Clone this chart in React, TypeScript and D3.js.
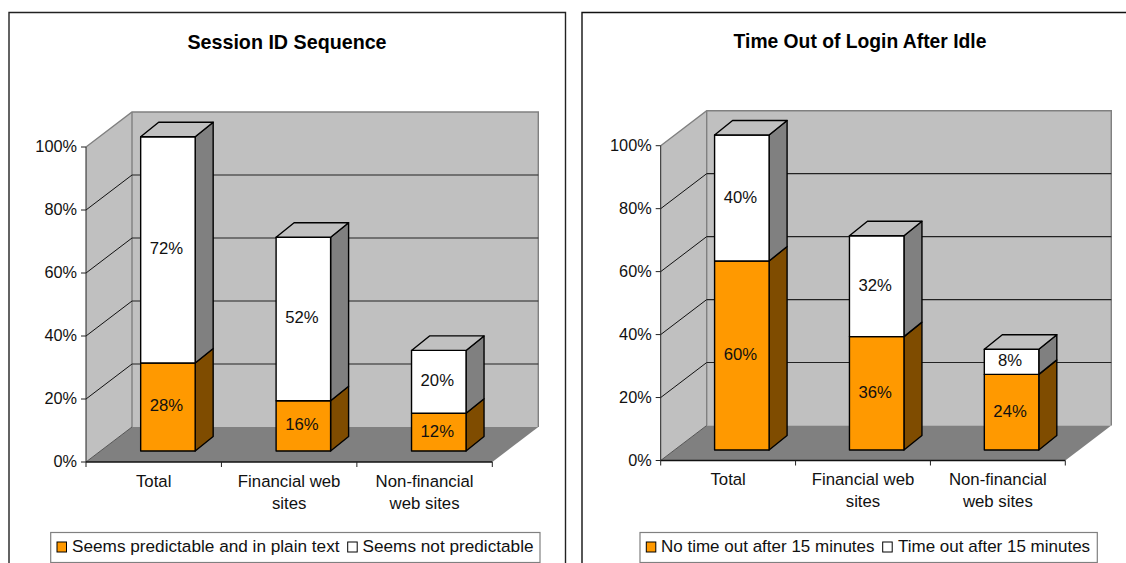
import React from "react";
import * as d3 from "d3";

const categoryLines = [["Total"], ["Financial web", "sites"], ["Non-financial", "web sites"]];
const categoryKeys = ["Total", "Financial web sites", "Non-financial web sites"];
const yTicks = [0, 20, 40, 60, 80, 100];

const sessionPredictable = [28, 16, 12];
const sessionNotPredictable = [72, 52, 20];
const timeoutNone = [60, 36, 24];
const timeoutAfter = [40, 32, 8];

const ORANGE = "#ff9900";
const ORANGE_SIDE = "#7f4c00";
const WHITE_SIDE = "#808080";
const WALL = "#c0c0c0";
const FLOOR = "#808080";
const FONT = "'Liberation Sans', Arial, sans-serif";

type PanelProps = {
  title: string;
  titleX: number;
  titleY: number;
  titleSize: number;
  axisX: number;
  floorRight: number;
  y0: number;
  y100: number;
  barBottom: number;
  barTop: number;
  barShift: number;
  lower: number[];
  upper: number[];
  catBaseline: number;
  legendSize: number;
  legend: { x0: number; x1: number; s1: number; t1: number; s2: number; t2: number; a: string; b: string };
};

const WALL_DX = 46;
const WALL_DY = 35;
const BAR_DX = 18;
const BAR_DY = 14.5;
const BAR_W = 54.5;

const pts = (p: number[][]) => p.map((q) => q.join(",")).join(" ");

function Panel(p: PanelProps) {
  const x = d3.scaleBand<string>().domain(categoryKeys).range([p.axisX, p.floorRight]);
  const yAxis = d3.scaleLinear().domain([0, 100]).range([p.y0, p.y100]);
  const yBar = d3.scaleLinear().domain([0, 100]).range([p.barBottom, p.barTop]);
  const wallL = p.axisX + WALL_DX;
  const wallR = p.floorRight + WALL_DX;
  const wallTop = p.y100 - WALL_DY;
  const wallBottom = p.y0 - WALL_DY;
  const edges = [p.axisX, ...categoryKeys.map((c) => (x(c) as number) + x.bandwidth())];

  return (
    <g fontFamily={FONT} fontSize={16.3} fill="#111">
      <text x={p.titleX} y={p.titleY} textAnchor="middle" fontWeight="bold" fontSize={p.titleSize} fill="#000">
        {p.title}
      </text>

      {/* walls and floor of the 3D plot box */}
      <polygon
        points={pts([[p.axisX, p.y0], [wallL, wallBottom], [wallL, wallTop], [p.axisX, p.y100]])}
        fill={WALL}
      />
      <rect x={wallL} y={wallTop} width={wallR - wallL} height={wallBottom - wallTop} fill={WALL} />
      <polygon
        points={pts([[p.axisX, p.y0], [p.floorRight, p.y0], [wallR, wallBottom], [wallL, wallBottom]])}
        fill={FLOOR}
      />
      <polyline
        points={pts([[p.axisX, p.y100], [wallL, wallTop], [wallR, wallTop], [wallR, wallBottom]])}
        fill="none"
        stroke={FLOOR}
        strokeWidth={1.4}
      />
      <line x1={wallL} x2={wallL} y1={wallTop} y2={wallBottom} stroke={FLOOR} strokeWidth={1.4} />

      {/* gridlines across the side and back walls */}
      {yTicks
        .filter((t) => t > 0 && t < 100)
        .map((t) => (
          <g key={t}>
            <line x1={p.axisX} y1={yAxis(t)} x2={wallL} y2={yAxis(t) - WALL_DY} stroke="#111" strokeWidth={1} />
            <line x1={wallL} y1={yAxis(t) - WALL_DY} x2={wallR} y2={yAxis(t) - WALL_DY} stroke="#222" strokeWidth={1.1} />
          </g>
        ))}

      {/* value axis */}
      <line x1={p.axisX} x2={p.axisX} y1={p.y100} y2={p.y0} stroke="#222" strokeWidth={1} />
      <line x1={p.axisX} y1={p.y0} x2={wallL} y2={wallBottom} stroke="#555" strokeWidth={1} />
      {yTicks.map((t) => (
        <g key={t}>
          <line x1={p.axisX - 5} x2={p.axisX} y1={yAxis(t)} y2={yAxis(t)} stroke="#222" strokeWidth={1} />
          <text x={p.axisX - 9} y={yAxis(t) + 5} textAnchor="end">
            {t}%
          </text>
        </g>
      ))}

      {/* category axis */}
      <line x1={p.axisX} x2={p.floorRight} y1={p.y0} y2={p.y0} stroke="#111" strokeWidth={1.4} />
      {edges.map((e) => (
        <line key={e} x1={e} x2={e} y1={p.y0} y2={p.y0 + 5} stroke="#222" strokeWidth={1} />
      ))}
      {categoryKeys.map((c, i) => (
        <text key={c} textAnchor="middle" fontSize={16.8}>
          {categoryLines[i].map((line, j) => (
            <tspan key={line} x={(x(c) as number) + x.bandwidth() / 2} y={p.catBaseline + j * 22}>
              {line}
            </tspan>
          ))}
        </text>
      ))}

      {/* stacked 3D columns */}
      {categoryKeys.map((c, i) => {
        const left = (x(c) as number) + x.bandwidth() / 2 + p.barShift - BAR_W / 2;
        const right = left + BAR_W;
        const low = p.lower[i];
        const total = low + p.upper[i];
        const segments = [
          { from: 0, to: low, face: ORANGE, side: ORANGE_SIDE },
          { from: low, to: total, face: "#ffffff", side: WHITE_SIDE },
        ];
        return (
          <g key={c} stroke="#000" strokeWidth={1.4} strokeLinejoin="round">
            {segments.map((s) => {
              const yA = yBar(s.from);
              const yB = yBar(s.to);
              return (
                <g key={s.from}>
                  <polygon
                    points={pts([[right, yA], [right + BAR_DX, yA - BAR_DY], [right + BAR_DX, yB - BAR_DY], [right, yB]])}
                    fill={s.side}
                  />
                  <rect x={left} y={yB} width={BAR_W} height={yA - yB} fill={s.face} />
                  <text
                    x={(left + right) / 2 - 1.5}
                    y={(yA + yB) / 2 + 4.5}
                    textAnchor="middle"
                    stroke="none"
                    fill="#111"
                    fontSize={16.7}
                  >
                    {s.to - s.from}%
                  </text>
                </g>
              );
            })}
            <polygon
              points={pts([
                [left, yBar(total)],
                [right, yBar(total)],
                [right + BAR_DX, yBar(total) - BAR_DY],
                [left + BAR_DX, yBar(total) - BAR_DY],
              ])}
              fill={WALL}
            />
          </g>
        );
      })}

      {/* legend */}
      <rect x={p.legend.x0} y={532.5} width={p.legend.x1 - p.legend.x0} height={30} fill="#fff" stroke="#808080" strokeWidth={1.2} />
      <rect x={p.legend.s1} y={542} width={9.5} height={10} fill={ORANGE} stroke="#000" strokeWidth={1} />
      <text x={p.legend.t1} y={552} fontSize={p.legendSize}>{p.legend.a}</text>
      <rect x={p.legend.s2} y={542} width={9.5} height={10} fill="#fff" stroke="#000" strokeWidth={1} />
      <text x={p.legend.t2} y={552} fontSize={p.legendSize}>{p.legend.b}</text>
    </g>
  );
}

export default function App() {
  return (
    <svg
      width={1126}
      height={563}
      viewBox="0 0 1126 563"
      style={{ position: "absolute", left: 0, top: 0, display: "block", background: "#fff" }}
    >
      {/* chart frames, cut off by the page edge */}
      <path d="M9,570 V12.5 H565.5 V570" fill="none" stroke="#222" strokeWidth={1.4} />
      <path d="M582,570 V12.5 H1130" fill="none" stroke="#111" strokeWidth={1.4} />

      <Panel
        title="Session ID Sequence"
        titleX={287}
        titleY={48.5}
        titleSize={19.7}
        axisX={86}
        floorRight={492.3}
        y0={462}
        y100={147}
        barBottom={451}
        barTop={136.7}
        barShift={14.2}
        lower={sessionPredictable}
        upper={sessionNotPredictable}
        catBaseline={487}
        legendSize={17.2}
        legend={{
          x0: 50.7,
          x1: 540,
          s1: 57,
          t1: 72,
          s2: 347.7,
          t2: 362.5,
          a: "Seems predictable and in plain text",
          b: "Seems not predictable",
        }}
      />
      <Panel
        title="Time Out of Login After Idle"
        titleX={860}
        titleY={47.5}
        titleSize={19.3}
        axisX={660.7}
        floorRight={1065.3}
        y0={460.5}
        y100={145.7}
        barBottom={450}
        barTop={135}
        barShift={13.7}
        lower={timeoutNone}
        upper={timeoutAfter}
        catBaseline={485}
        legendSize={17}
        legend={{
          x0: 640,
          x1: 1097.3,
          s1: 646.3,
          t1: 661,
          s2: 882.7,
          t2: 898,
          a: "No time out after 15 minutes",
          b: "Time out after 15 minutes",
        }}
      />
    </svg>
  );
}
